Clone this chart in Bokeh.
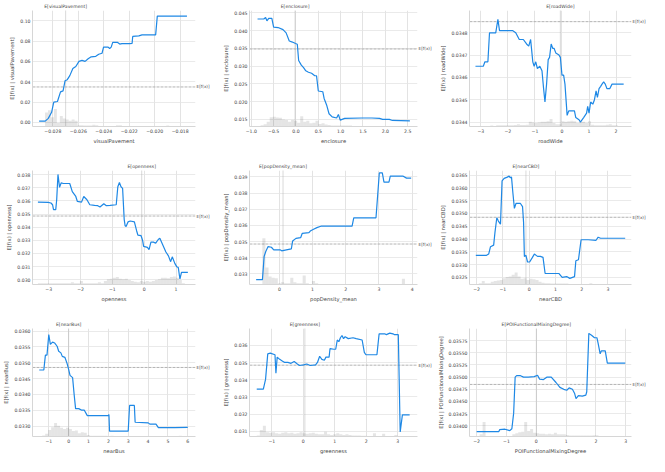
import numpy as np
from bokeh.plotting import figure
from bokeh.layouts import gridplot
from bokeh.models import FixedTicker, LinearAxis, Range1d, Span, CustomJSTickFormatter
from bokeh.embed import file_html
from bokeh.resources import INLINE

EXPECTED_VALUE = 0.03485

# ---------------- visualPavement ----------------
vp_x = [-0.02908, -0.0286, -0.02836, -0.0281, -0.02793, -0.02764, -0.0274, -0.0272, -0.02704, -0.02687,
        -0.02667, -0.02643, -0.0262, -0.02595, -0.02571, -0.02547, -0.02523, -0.02499, -0.02463, -0.0244,
        -0.02414, -0.02402, -0.02366, -0.02354, -0.02342, -0.0233, -0.02294, -0.02275, -0.02258, -0.02197,
        -0.02178, -0.02173, -0.02125, -0.021, -0.01993, -0.0198, -0.01747]
vp_y = [0.0013, 0.0013, 0.004, 0.010, 0.020, 0.0206, 0.030, 0.031, 0.041, 0.042,
        0.046, 0.053, 0.055, 0.060, 0.061, 0.060, 0.0626, 0.0645, 0.065, 0.067,
        0.068, 0.074, 0.074, 0.0726, 0.074, 0.0787, 0.0787, 0.077, 0.0775, 0.0774,
        0.0776, 0.0845, 0.085, 0.086, 0.086, 0.1045, 0.1045]
vp_hist = [0.0, 0.0, 0.12, 0.14, 0.08, 0.15, 0.03, 0.09, 0.07, 0.06,
           0.05, 0.06, 0.05, 0.01, 0.01, 0.008, 0.008, 0.008, 0.015, 0.01,
           0.005, 0.005, 0.005, 0.005, 0.005, 0.005, 0.01, 0.01, 0.005, 0.003,
           0.003, 0.003, 0.003, 0.003, 0.003, 0.003, 0.003, 0.003, 0.003, 0.003,
           0.003, 0.003, 0.003, 0.008, 0.003, 0.003, 0.003, 0.003, 0.003, 0.003]
vp_mean = -0.0270
vp_xticks = [-0.028, -0.026, -0.024, -0.022, -0.020, -0.018]
vp_yticks = [0.00, 0.02, 0.04, 0.06, 0.08, 0.10]

# ---------------- enclosure ----------------
en_x = [-0.86, -0.72, -0.68, -0.65, -0.61, -0.54, -0.50, -0.40, -0.29, -0.22,
        -0.15, -0.08, -0.01, 0.03, 0.06, 0.12, 0.17, 0.22, 0.28, 0.35,
        0.42, 0.46, 0.50, 0.60, 0.63, 0.69, 0.74, 0.81, 0.91, 0.95,
        0.99, 1.09, 1.48, 1.70, 1.87, 1.94, 2.09, 2.16, 2.55]
en_y = [0.0433, 0.0433, 0.0437, 0.0428, 0.0435, 0.0435, 0.0410, 0.0409, 0.0403, 0.0394,
        0.0371, 0.0368, 0.0364, 0.0362, 0.0316, 0.0303, 0.0296, 0.0287, 0.0283, 0.0280,
        0.0273, 0.0273, 0.0230, 0.0228, 0.0209, 0.0189, 0.0166, 0.0157, 0.0154, 0.0164,
        0.0148, 0.0153, 0.0154, 0.0154, 0.0153, 0.0150, 0.0150, 0.0147, 0.0146]
en_hist = [0.005, 0.01, 0.02, 0.04, 0.08, 0.083, 0.078, 0.075, 0.06, 0.055,
           0.04, 0.055, 0.05, 0.033, 0.089, 0.04, 0.05, 0.028, 0.033, 0.05,
           0.022, 0.028, 0.017, 0.014, 0.008, 0.008, 0.008, 0.008, 0.008, 0.008,
           0.008, 0.005, 0.005, 0.005, 0.005, 0.005, 0.005, 0.005, 0.005, 0.005,
           0.005, 0.003, 0.003, 0.003, 0.003, 0.003, 0.003, 0.003, 0.003, 0.003]
en_mean = -0.02
en_xticks = [-1.0, -0.5, 0.0, 0.5, 1.0, 1.5, 2.0, 2.5]
en_yticks = [0.015, 0.020, 0.025, 0.030, 0.035, 0.040, 0.045]

# ---------------- roadWide ----------------
rw_x = [-3.20, -2.91, -2.85, -2.74, -2.68, -2.45, -2.37, -2.31, -2.11, -2.00,
        -1.83, -1.71, -1.58, -1.43, -1.31, -1.23, -1.16, -1.12, -1.08, -1.03,
        -0.97, -0.91, -0.82, -0.74, -0.68, -0.63, -0.57, -0.51, -0.46, -0.40,
        -0.34, -0.29, -0.23, -0.11, -0.06, 0.00, 0.06, 0.11, 0.19, 0.25,
        0.46, 0.51, 0.63, 0.68, 0.80, 0.91, 0.95, 1.00, 1.06, 1.14,
        1.20, 1.26, 1.31, 1.37, 1.43, 1.48, 1.54, 1.60, 1.66, 1.77,
        1.85, 2.28]
rw_y = [0.03465, 0.03465, 0.03467, 0.03467, 0.03480, 0.03480, 0.03486, 0.03481, 0.03481, 0.03481,
        0.03481, 0.03480, 0.03477, 0.03477, 0.03475, 0.03474, 0.03477, 0.03472, 0.03467, 0.03465,
        0.03467, 0.03464, 0.03465, 0.03463, 0.03455, 0.03449, 0.03457, 0.03468, 0.03469, 0.03475,
        0.03473, 0.03473, 0.03471, 0.03470, 0.03469, 0.03461, 0.03461, 0.03457, 0.03443, 0.03445,
        0.03445, 0.03442, 0.03441, 0.03440, 0.03442, 0.03444, 0.03447, 0.03444, 0.03449, 0.03448,
        0.03450, 0.03454, 0.03451, 0.03455, 0.03456, 0.03457, 0.03458, 0.03457, 0.03455, 0.03455,
        0.03457, 0.03457]
rw_hist = [0.005, 0.005, 0.005, 0.005, 0.005, 0.008, 0.005, 0.01, 0.01, 0.01,
           0.01, 0.01, 0.01, 0.012, 0.02, 0.012, 0.012, 0.015, 0.04, 0.035,
           0.03, 0.035, 0.04, 0.04, 0.045, 0.065, 0.03, 0.02, 0.02, 0.045,
           0.04, 0.045, 0.05, 0.045, 0.03, 0.04, 0.04, 0.03, 0.045, 0.015,
           0.01, 0.01, 0.01, 0.01, 0.015, 0.02, 0.01, 0.01, 0.005, 0.005]
rw_mean = -0.06
rw_xticks = [-3, -2, -1, 0, 1, 2]
rw_yticks = [0.0344, 0.0345, 0.0346, 0.0347, 0.0348]

# ---------------- openness ----------------
op_x = [-3.34, -3.02, -2.93, -2.88, -2.85, -2.78, -2.75, -2.71, -2.66, -2.61,
        -2.54, -2.34, -2.26, -2.15, -2.10, -1.97, -1.90, -1.80, -1.71, -1.56,
        -1.46, -1.39, -1.27, -1.19, -1.07, -0.88, -0.83, -0.78, -0.73, -0.68,
        -0.63, -0.60, -0.57, -0.51, -0.44, -0.31, -0.24, -0.20, -0.10, -0.05,
        -0.02, 0.10, 0.15, 0.21, 0.29, 0.36, 0.44, 0.49, 0.59, 0.68,
        0.76, 0.83, 0.88, 0.96, 1.02, 1.07, 1.12, 1.17, 1.37]
op_y = [0.03591, 0.03589, 0.03584, 0.03571, 0.03534, 0.03534, 0.03609, 0.03802, 0.03703, 0.03738,
        0.03733, 0.03733, 0.03671, 0.03634, 0.03596, 0.03591, 0.03634, 0.03609, 0.03571, 0.03566,
        0.03564, 0.03554, 0.03579, 0.03564, 0.03566, 0.03571, 0.03708, 0.03740, 0.03708, 0.03696,
        0.03460, 0.03410, 0.03405, 0.03440, 0.03447, 0.03440, 0.03373, 0.03340, 0.03335, 0.03298,
        0.03253, 0.03246, 0.03229, 0.03286, 0.03286, 0.03278, 0.03306, 0.03316, 0.03261, 0.03211,
        0.03181, 0.03137, 0.03174, 0.03124, 0.03099, 0.03092, 0.03005, 0.03055, 0.03055]
op_hist = [0.01, 0.01, 0.01, 0.01, 0.01, 0.01, 0.01, 0.01, 0.01, 0.01,
           0.01, 0.02, 0.01, 0.01, 0.03, 0.012, 0.012, 0.012, 0.012, 0.012,
           0.02, 0.012, 0.03, 0.045, 0.05, 0.06, 0.065, 0.05, 0.045, 0.05,
           0.04, 0.03, 0.025, 0.02, 0.03, 0.025, 0.03, 0.025, 0.03, 0.04,
           0.045, 0.06, 0.06, 0.055, 0.065, 0.07, 0.06, 0.04, 0.01, 0.005]
op_mean = -0.08
op_xticks = [-3, -2, -1, 0, 1]
op_yticks = [0.030, 0.031, 0.032, 0.033, 0.034, 0.035, 0.036, 0.037, 0.038]

# ---------------- popDensity_mean ----------------
pd_x = [-0.70, -0.51, -0.46, -0.41, -0.34, -0.24, -0.17, 0.02, 0.07, 0.21,
        0.36, 0.40, 0.50, 0.64, 0.69, 0.89, 0.93, 1.03, 1.13, 1.27,
        1.46, 2.19, 2.24, 2.91, 3.01, 3.10, 3.15, 3.30, 3.34, 3.73,
        3.83, 3.97]
pd_y = [0.03265, 0.03265, 0.03408, 0.03439, 0.03469, 0.03465, 0.03449, 0.03449, 0.03443, 0.03449,
        0.03455, 0.03504, 0.03520, 0.03524, 0.03551, 0.03555, 0.03565, 0.03576, 0.03586, 0.03596,
        0.03596, 0.03596, 0.03647, 0.03647, 0.03924, 0.03924, 0.03867, 0.03867, 0.03904, 0.03904,
        0.03892, 0.03892]
pd_hist = [0.0, 0.0, 0.405, 0.15, 0.07, 0.06, 0.055, 0.01, 0.02, 0.01,
           0.01, 0.06, 0.02, 0.01, 0.01, 0.078, 0.01, 0.005, 0.03, 0.01,
           0.003, 0.003, 0.003, 0.003, 0.003, 0.003, 0.003, 0.003, 0.003, 0.003,
           0.003, 0.003, 0.003, 0.003, 0.003, 0.003, 0.003, 0.005, 0.003, 0.003,
           0.005, 0.003, 0.003, 0.003, 0.003, 0.005, 0.003, 0.05, 0.005, 0.003]
pd_mean = 0.11
pd_xticks = [0, 1, 2, 3, 4]
pd_yticks = [0.033, 0.034, 0.035, 0.036, 0.037, 0.038, 0.039]

# ---------------- nearCBD ----------------
nc_x = [-2.03, -1.62, -1.54, -1.47, -1.35, -1.30, -1.23, -1.17, -1.09, -1.03,
        -0.95, -0.83, -0.76, -0.72, -0.67, -0.62, -0.56, -0.50, -0.33, -0.25,
        -0.21, -0.18, -0.12, -0.06, 0.02, 0.11, 0.20, 0.32, 0.43, 0.53,
        0.61, 1.14, 1.26, 1.43, 1.55, 1.73, 1.78, 1.88, 1.98, 2.25,
        2.55, 2.63, 2.72, 3.66]
nc_y = [0.03336, 0.03336, 0.03341, 0.03370, 0.03376, 0.03426, 0.03483, 0.03470, 0.03458, 0.03627,
        0.03637, 0.03642, 0.03646, 0.03640, 0.03642, 0.03583, 0.03520, 0.03539, 0.03539, 0.03527,
        0.03464, 0.03332, 0.03336, 0.03310, 0.03310, 0.03325, 0.03341, 0.03332, 0.03332, 0.03328,
        0.03265, 0.03265, 0.03250, 0.03253, 0.03246, 0.03253, 0.03315, 0.03319, 0.03397, 0.03397,
        0.03395, 0.03407, 0.03403, 0.03403]
nc_hist = [0.005, 0.01, 0.03, 0.01, 0.01, 0.025, 0.03, 0.035, 0.04, 0.055,
           0.065, 0.07, 0.085, 0.105, 0.07, 0.05, 0.055, 0.04, 0.05, 0.045,
           0.04, 0.025, 0.015, 0.012, 0.01, 0.008, 0.008, 0.008, 0.008, 0.008,
           0.008, 0.005, 0.005, 0.005, 0.005, 0.005, 0.005, 0.005, 0.012, 0.005,
           0.005, 0.003, 0.003, 0.003, 0.003, 0.003, 0.003, 0.003, 0.003, 0.003]
nc_mean = -0.12
nc_xticks = [-2, -1, 0, 1, 2, 3]
nc_yticks = [0.0325, 0.0330, 0.0335, 0.0340, 0.0345, 0.0350, 0.0355, 0.0360, 0.0365]

# ---------------- nearBus ----------------
nb_x = [-1.48, -1.25, -1.17, -1.09, -1.00, -0.92, -0.81, -0.70, -0.58, -0.50,
        -0.39, -0.32, -0.19, -0.08, 0.00, 0.07, 0.20, 0.28, 0.35, 0.51,
        0.66, 0.79, 0.94, 1.29, 1.99, 2.03, 2.06, 3.00, 3.07, 3.31,
        3.35, 4.01, 4.09, 4.40, 4.52, 5.33, 6.00]
nb_y = [0.03477, 0.03477, 0.03524, 0.03524, 0.03589, 0.03558, 0.03565, 0.03562, 0.03552, 0.03536,
        0.03531, 0.03520, 0.03517, 0.03498, 0.03479, 0.03460, 0.03453, 0.03398, 0.03355, 0.03355,
        0.03350, 0.03350, 0.03333, 0.03333, 0.03333, 0.03336, 0.03284, 0.03284, 0.03365, 0.03365,
        0.03312, 0.03310, 0.03306, 0.03306, 0.03295, 0.03295, 0.03296]
nb_hist = [0.005, 0.01, 0.025, 0.06, 0.085, 0.125, 0.1, 0.08, 0.07, 0.08,
           0.07, 0.05, 0.055, 0.03, 0.04, 0.035, 0.015, 0.008, 0.008, 0.008,
           0.008, 0.008, 0.008, 0.004, 0.008, 0.004, 0.004, 0.004, 0.004, 0.004,
           0.004, 0.004, 0.004, 0.004, 0.004, 0.004, 0.004, 0.004, 0.004, 0.004,
           0.004, 0.004, 0.004, 0.004, 0.004, 0.004, 0.004, 0.008, 0.004, 0.004]
nb_mean = 0.0
nb_xticks = [-1, 0, 1, 2, 3, 4, 5, 6]
nb_yticks = [0.0330, 0.0335, 0.0340, 0.0345, 0.0350, 0.0355, 0.0360]

# ---------------- greenness ----------------
gr_x = [-1.48, -1.27, -1.20, -1.13, -1.05, -0.90, -0.87, -0.83, -0.75, -0.67,
        -0.59, -0.49, -0.39, -0.29, -0.19, -0.12, 0.01, 0.11, 0.22, 0.39,
        0.45, 0.52, 0.59, 0.67, 0.72, 0.82, 0.85, 0.97, 1.03, 1.08,
        1.13, 1.18, 1.23, 1.28, 1.33, 1.43, 1.58, 1.68, 1.87, 1.94,
        1.99, 2.34, 2.41, 2.59, 2.64, 2.75, 2.85, 2.90, 3.02, 3.08,
        3.15, 3.38]
gr_y = [0.03345, 0.03345, 0.03402, 0.03551, 0.03555, 0.03546, 0.03438, 0.03532, 0.03519, 0.03510,
        0.03501, 0.03501, 0.03496, 0.03506, 0.03492, 0.03483, 0.03487, 0.03492, 0.03483, 0.03487,
        0.03501, 0.03537, 0.03519, 0.03514, 0.03532, 0.03532, 0.03582, 0.03578, 0.03578, 0.03632,
        0.03622, 0.03645, 0.03658, 0.03640, 0.03651, 0.03640, 0.03645, 0.03640, 0.03632, 0.03560,
        0.03546, 0.03546, 0.03668, 0.03668, 0.03663, 0.03672, 0.03668, 0.03663, 0.03663, 0.03096,
        0.03195, 0.03195]
gr_hist = [0.01, 0.06, 0.1, 0.04, 0.035, 0.04, 0.03, 0.025, 0.035, 0.04,
           0.03, 0.035, 0.025, 0.03, 0.04, 0.03, 0.025, 0.03, 0.035, 0.025,
           0.02, 0.02, 0.045, 0.02, 0.015, 0.02, 0.03, 0.02, 0.015, 0.02,
           0.015, 0.01, 0.01, 0.01, 0.008, 0.008, 0.005, 0.005, 0.03, 0.005,
           0.005, 0.025, 0.005, 0.005, 0.005, 0.015, 0.005, 0.005, 0.003, 0.003]
gr_mean = 0.05
gr_xticks = [-1, 0, 1, 2, 3]
gr_yticks = [0.031, 0.032, 0.033, 0.034, 0.035, 0.036]

# ---------------- POIFunctionalMixingDegree ----------------
poi_x = [-2.00, -1.46, -1.26, -1.23, -1.05, -0.89, -0.82, -0.76, -0.71, -0.66,
         -0.53, -0.43, -0.27, -0.07, 0.04, 0.11, 0.24, 0.35, 0.50, 0.66,
         0.79, 0.92, 1.02, 1.10, 1.21, 1.28, 1.33, 1.41, 1.54, 1.66,
         1.69, 1.76, 1.85, 1.95, 2.03, 2.07, 2.14, 2.18, 2.31, 2.38,
         2.98]
poi_y = [0.03388, 0.03388, 0.03388, 0.03392, 0.03393, 0.03390, 0.03394, 0.03426, 0.03500, 0.03503,
         0.03503, 0.03500, 0.03500, 0.03501, 0.03504, 0.03496, 0.03495, 0.03500, 0.03500, 0.03489,
         0.03479, 0.03475, 0.03473, 0.03478, 0.03475, 0.03467, 0.03456, 0.03462, 0.03461, 0.03463,
         0.03470, 0.03590, 0.03586, 0.03581, 0.03581, 0.03570, 0.03548, 0.03554, 0.03554, 0.03529,
         0.03529]
poi_hist = [0.005, 0.02, 0.135, 0.003, 0.003, 0.003, 0.003, 0.003, 0.003, 0.003,
            0.005, 0.005, 0.02, 0.03, 0.04, 0.045, 0.135, 0.05, 0.07, 0.035,
            0.03, 0.025, 0.025, 0.02, 0.025, 0.02, 0.035, 0.02, 0.02, 0.02,
            0.015, 0.01, 0.01, 0.01, 0.01, 0.01, 0.01, 0.01, 0.01, 0.012,
            0.012, 0.005, 0.005, 0.005, 0.005, 0.005, 0.005, 0.005, 0.005, 0.005]
poi_mean = 0.0
poi_xticks = [-2, -1, 0, 1, 2, 3]
poi_yticks = [0.03400, 0.03425, 0.03450, 0.03475, 0.03500, 0.03525, 0.03550, 0.03575]

PANELS = [
    dict(name="visualPavement", x=vp_x, y=vp_y, hist=vp_hist, mean=vp_mean, xt=vp_xticks, yt=vp_yticks,
         xd=3, yd=2, xr=(-0.0296, -0.0168), yr=(-0.004, 0.110)),
    dict(name="enclosure", x=en_x, y=en_y, hist=en_hist, mean=en_mean, xt=en_xticks, yt=en_yticks,
         xd=1, yd=3, xr=(-1.04, 2.72), yr=(0.0130, 0.0457)),
    dict(name="roadWide", x=rw_x, y=rw_y, hist=rw_hist, mean=rw_mean, xt=rw_xticks, yt=rw_yticks,
         xd=0, yd=4, xr=(-3.42, 2.57), yr=(0.03438, 0.03490)),
    dict(name="openness", x=op_x, y=op_y, hist=op_hist, mean=op_mean, xt=op_xticks, yt=op_yticks,
         xd=0, yd=3, xr=(-3.51, 1.61), yr=(0.02963, 0.03832)),
    dict(name="popDensity_mean", x=pd_x, y=pd_y, hist=pd_hist, mean=pd_mean, xt=pd_xticks, yt=pd_yticks,
         xd=0, yd=3, xr=(-0.90, 4.16), yr=(0.03235, 0.03939)),
    dict(name="nearCBD", x=nc_x, y=nc_y, hist=nc_hist, mean=nc_mean, xt=nc_xticks, yt=nc_yticks,
         xd=0, yd=4, xr=(-2.27, 3.90), yr=(0.03222, 0.03668)),
    dict(name="nearBus", x=nb_x, y=nb_y, hist=nb_hist, mean=nb_mean, xt=nb_xticks, yt=nb_yticks,
         xd=0, yd=4, xr=(-1.82, 6.39), yr=(0.03267, 0.03608)),
    dict(name="greenness", x=gr_x, y=gr_y, hist=gr_hist, mean=gr_mean, xt=gr_xticks, yt=gr_yticks,
         xd=0, yd=3, xr=(-1.71, 3.63), yr=(0.03069, 0.03699)),
    dict(name="POIFunctionalMixingDegree", x=poi_x, y=poi_y, hist=poi_hist, mean=poi_mean, xt=poi_xticks,
         yt=poi_yticks, xd=0, yd=5, xr=(-2.24, 3.19), yr=(0.03378, 0.03600)),
]

# layout (per column / per row)
COL_W = [212, 222, 214]
COL_LEFT = [23, 37, 35]
COL_RIGHT = [12, 12, 13]
ROW_H = [158, 158, 140]
ROW_TOP = [10, 12, 12]
ROW_BOTTOM = [32, 32, 18]

FONT = "DejaVu Sans"
TICK_FS = "4.6px"
LABEL_FS = "5.2px"
TEXT_COLOR = "#444444"


def num_fmt(d):
    return CustomJSTickFormatter(code="return tick.toFixed(%d).replace('-', '\\u2212');" % d)


def const_fmt(text):
    return CustomJSTickFormatter(code="return %r;" % text)


def style_axis(ax):
    ax.axis_line_color = "#d6d6d6"
    ax.major_tick_line_color = None
    ax.minor_tick_line_color = None
    ax.major_tick_out = 0
    ax.major_tick_in = 0
    ax.minor_tick_out = 0
    ax.minor_tick_in = 0
    ax.major_label_text_font = FONT
    ax.major_label_text_font_size = TICK_FS
    ax.major_label_text_color = TEXT_COLOR
    ax.major_label_standoff = 2
    ax.axis_label_text_font = FONT
    ax.axis_label_text_font_size = LABEL_FS
    ax.axis_label_text_font_style = "normal"
    ax.axis_label_text_color = TEXT_COLOR
    ax.axis_label_standoff = 2


def make_panel(c, row, col):
    p = figure(width=COL_W[col], height=ROW_H[row], output_backend="svg", toolbar_location=None,
               x_range=Range1d(*c["xr"]), y_range=Range1d(*c["yr"]),
               min_border_left=COL_LEFT[col], min_border_right=COL_RIGHT[col],
               min_border_top=ROW_TOP[row], min_border_bottom=ROW_BOTTOM[row])
    p.outline_line_color = None
    p.background_fill_color = "white"

    xa = p.xaxis[0]
    ya = p.yaxis[0]
    xa.ticker = FixedTicker(ticks=c["xt"])
    ya.ticker = FixedTicker(ticks=c["yt"])
    xa.formatter = num_fmt(c["xd"])
    ya.formatter = num_fmt(c["yd"])
    xa.axis_label = c["name"]
    ya.axis_label = "E[f(x) | %s]" % c["name"]
    style_axis(xa)
    style_axis(ya)

    p.xgrid.ticker = FixedTicker(ticks=c["xt"])
    p.ygrid.ticker = FixedTicker(ticks=c["yt"])
    p.xgrid.grid_line_color = "#dcdcdc"
    p.ygrid.grid_line_color = "#e4e4e4"
    p.grid.grid_line_width = 0.8

    # histogram of feature values (share of samples per bin)
    edges = np.linspace(c["x"][0], c["x"][-1], len(c["hist"]) + 1)
    y0, y1 = c["yr"]
    tops = y0 + np.array(c["hist"]) * (y1 - y0)
    p.quad(left=edges[:-1], right=edges[1:], bottom=y0, top=tops,
           fill_color="black", fill_alpha=0.1, line_color=None)

    p.add_layout(Span(location=EXPECTED_VALUE, dimension="width", line_color="#aaaaaa",
                      line_width=0.9, line_dash="3 1", level="underlay"))
    p.add_layout(Span(location=c["mean"], dimension="height", line_color="#aaaaaa",
                      line_width=0.9, line_dash="1 1", level="underlay"))

    p.line(c["x"], c["y"], line_color="#1E88E5", line_width=1.2)

    top = LinearAxis(ticker=FixedTicker(ticks=[c["mean"]]), formatter=const_fmt("E[%s]" % c["name"]))
    style_axis(top)
    top.axis_line_color = None
    p.add_layout(top, "above")

    right = LinearAxis(ticker=FixedTicker(ticks=[EXPECTED_VALUE]), formatter=const_fmt("E[f(x)]"))
    style_axis(right)
    right.axis_line_color = None
    right.major_label_text_font_size = "4.2px"
    right.major_label_standoff = 1
    p.add_layout(right, "right")
    return p


rows = []
for r in range(3):
    rows.append([make_panel(PANELS[3 * r + k], r, k) for k in range(3)])
grid = gridplot(rows, toolbar_location=None)

open("out.html", "w").write(file_html(grid, INLINE))
